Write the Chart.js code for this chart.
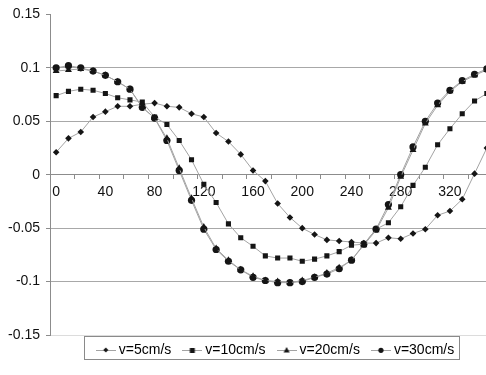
<!DOCTYPE html>
<html>
<head>
<meta charset="utf-8">
<script src="https://cdn.jsdelivr.net/npm/chart.js@4.4.1/dist/chart.umd.min.js"></script>
<style>
  html, body { margin: 0; padding: 0; background: #fff; overflow: hidden; }
  #caja { width: 497px; height: 375px; position: relative; }
</style>
</head>
<body>
<div id="caja"><canvas id="grafica"></canvas></div>
<script>
// ángulos (categorías del eje x)
const angulos = ['0','10','20','30','40','50','60','70','80','90','100','110','120','130','140','150','160','170',
                 '180','190','200','210','220','230','240','250','260','270','280','290','300','310','320','330','340','350'];

const etiquetas = ['v=5cm/s', 'v=10cm/s', 'v=20cm/s', 'v=30cm/s'];

const v5 = [0.021, 0.034, 0.040, 0.054, 0.059, 0.064, 0.064, 0.066, 0.067, 0.064, 0.063, 0.057,
            0.054, 0.039, 0.031, 0.019, 0.004, -0.006, -0.027, -0.040, -0.050, -0.056, -0.061, -0.062,
            -0.063, -0.064, -0.064, -0.059, -0.060, -0.055, -0.051, -0.038, -0.034, -0.023, 0.001, 0.025];

const v10 = [0.074, 0.078, 0.080, 0.079, 0.076, 0.072, 0.070, 0.068, 0.054, 0.047, 0.032, 0.014,
             -0.009, -0.026, -0.046, -0.059, -0.067, -0.076, -0.078, -0.078, -0.081, -0.079, -0.076, -0.072,
             -0.066, -0.065, -0.051, -0.045, -0.030, -0.010, 0.007, 0.028, 0.043, 0.057, 0.069, 0.076];

const v20 = [0.097, 0.098, 0.099, 0.097, 0.093, 0.087, 0.080, 0.063, 0.053, 0.034, 0.006, -0.022,
             -0.049, -0.069, -0.080, -0.089, -0.095, -0.099, -0.100, -0.101, -0.099, -0.096, -0.092, -0.087,
             -0.080, -0.066, -0.052, -0.031, -0.002, 0.023, 0.048, 0.065, 0.078, 0.087, 0.093, 0.098];

const v30 = [0.100, 0.102, 0.100, 0.097, 0.093, 0.087, 0.080, 0.063, 0.053, 0.032, 0.004, -0.024,
             -0.051, -0.070, -0.081, -0.089, -0.096, -0.099, -0.101, -0.101, -0.100, -0.096, -0.093, -0.088,
             -0.080, -0.065, -0.051, -0.028, 0.000, 0.026, 0.050, 0.067, 0.079, 0.088, 0.094, 0.099];

const ticksY = [-0.15, -0.1, -0.05, 0, 0.05, 0.1, 0.15];

const FUENTE = '"Liberation Sans", Arial, sans-serif';
const colorLinea = '#a3a3a3';
const colorMarca = '#151515';

// icono de la leyenda: trocito de línea con la marca en medio
function icono(tipo) {
    const c = document.createElement('canvas');
    c.width = 20; c.height = 10;
    const g = c.getContext('2d');
    g.strokeStyle = colorLinea; g.lineWidth = 1;
    g.beginPath(); g.moveTo(0, 5.5); g.lineTo(20, 5.5); g.stroke();
    g.fillStyle = colorMarca;
    g.beginPath();
    if (tipo === 'rombo') {
        g.moveTo(10, 2.5); g.lineTo(12.5, 5); g.lineTo(10, 7.5); g.lineTo(7.5, 5);
    } else if (tipo === 'cuadro') {
        g.rect(7.5, 3, 5, 5);
    } else if (tipo === 'triangulo') {
        g.moveTo(10, 2); g.lineTo(13, 7.5); g.lineTo(7, 7.5);
    } else {
        g.arc(10, 5.3, 2.6, 0, Math.PI * 2);
    }
    g.closePath(); g.fill();
    return c;
}
const iconos = [icono('rombo'), icono('cuadro'), icono('triangulo'), icono('circulo')];

// ajustes de la leyenda (alto fijo, desplazamiento y recuadro)
const leyendaExcel = {
    id: 'leyendaExcel',
    beforeLayout(chart) {
        const l = chart.legend;
        if (l && !l._parcheado) {
            const fitOrig = l.fit;
            l.fit = function () { fitOrig.call(this); this.height = 40; };
            l._parcheado = true;
        }
    },
    afterLayout(chart) {
        const l = chart.legend;
        const dx = 284 - (l.left + l.right) / 2 - 7;
        l.left += dx; l.right += dx;
        l.top -= 7; l.bottom -= 7;
    },
    afterDraw(chart) {
        const l = chart.legend;
        const pad = l.options.labels.padding;
        const lw = l.lineWidths[0];
        const inicio = (l.left + pad + l.right - lw) / 2;
        const ctx = chart.ctx;
        ctx.save();
        ctx.strokeStyle = '#8a8a8a';
        ctx.lineWidth = 1;
        ctx.strokeRect(Math.round(inicio - 16) + 0.5, Math.round(l.top + 8) + 0.5,
                       Math.round(lw - pad + 21), 23);
        ctx.restore();
    }
};

const serie = (label, data, estilo, radio) => ({
    label: label,
    data: data,
    borderColor: colorLinea,
    borderWidth: 1,
    pointStyle: estilo,
    pointRadius: radio,
    pointBackgroundColor: colorMarca,
    pointBorderColor: colorMarca,
    pointBorderWidth: 0,
    tension: 0,
    fill: false
});

new Chart(document.getElementById('grafica'), {
    type: 'line',
    data: {
        labels: angulos,
        datasets: [
            serie(etiquetas[0], v5, 'rectRot', 3.3),
            serie(etiquetas[1], v10, 'rect', 3.6),
            serie(etiquetas[2], v20, 'triangle', 4),
            serie(etiquetas[3], v30, 'circle', 3.6)
        ]
    },
    options: {
        responsive: true,
        maintainAspectRatio: false,
        animation: false,
        layout: { padding: { top: 10, right: 0, bottom: 0, left: 0 } },
        plugins: {
            legend: {
                position: 'bottom',
                labels: {
                    usePointStyle: true,
                    pointStyleWidth: 12,
                    padding: 15,
                    color: '#111',
                    font: { family: FUENTE, size: 14 },
                    generateLabels: (chart) => etiquetas.map((t, i) => ({
                        text: t,
                        pointStyle: iconos[i],
                        fillStyle: colorMarca,
                        strokeStyle: colorMarca,
                        lineWidth: 0,
                        hidden: false,
                        datasetIndex: i
                    }))
                }
            },
            tooltip: { enabled: false }
        },
        scales: {
            x: {
                type: 'category',
                position: { y: 0 },
                offset: true,
                border: { color: '#8c8c8c', width: 1 },
                grid: {
                    offset: true,
                    drawOnChartArea: false,
                    drawTicks: true,
                    tickLength: 4,
                    tickColor: (ctx) => ctx.index % 2 === 0 ? '#8c8c8c' : 'rgba(0,0,0,0)'
                },
                ticks: {
                    autoSkip: false,
                    maxRotation: 0,
                    padding: 5,
                    color: '#111',
                    font: { family: FUENTE, size: 14 },
                    callback: function (val, idx) {
                        return idx % 4 === 0 ? this.getLabelForValue(val) : '';
                    }
                }
            },
            y: {
                min: ticksY[0],
                max: ticksY[ticksY.length - 1],
                afterFit: (scale) => { scale.width = 50; },
                afterBuildTicks: (scale) => { scale.ticks = ticksY.map(v => ({ value: v })); },
                border: { color: '#8c8c8c', width: 1 },
                grid: {
                    drawTicks: true,
                    tickLength: 4,
                    tickColor: '#8c8c8c',
                    color: (ctx) => {
                        const v = ctx.tick ? ctx.tick.value : null;
                        if (v === 0.15 || v === 0) return 'rgba(0,0,0,0)';
                        if (v === -0.15) return '#dcdcdc';
                        return '#a8a8a8';
                    }
                },
                ticks: {
                    padding: 6,
                    color: '#111',
                    font: { family: FUENTE, size: 14 },
                    callback: (v) => String(Math.round(v * 100) / 100)
                }
            }
        }
    },
    plugins: [leyendaExcel]
});
</script>
</body>
</html>
